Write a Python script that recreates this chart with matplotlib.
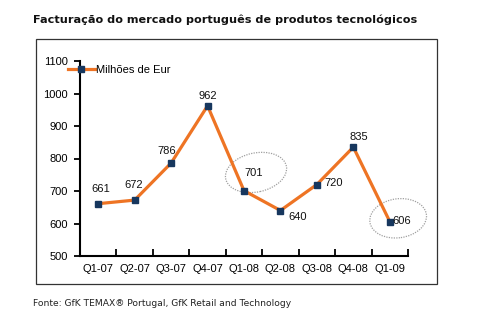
import matplotlib
matplotlib.use("Agg")
import matplotlib.pyplot as plt
from matplotlib.patches import Ellipse, Rectangle
from matplotlib.transforms import ScaledTranslation
import numpy as np

categories = ["Q1-07", "Q2-07", "Q3-07", "Q4-07", "Q1-08", "Q2-08", "Q3-08", "Q4-08", "Q1-09"]
values = [661, 672, 786, 962, 701, 640, 720, 835, 606]
label_offsets = [(3, 15), (-1, 15), (-4, 12), (0, 10), (10, 18), (17, -7), (17, 1), (5, 10), (12, 1)]
y_ticks = [500, 600, 700, 800, 900, 1000, 1100]
series_name = "Milhões de Eur"
title = "Facturação do mercado português de produtos tecnológicos"
source = "Fonte: GfK TEMAX® Portugal, GfK Retail and Technology"

W, H = 498, 322
fig = plt.figure(figsize=(W / 100, H / 100), dpi=100)
fig.patch.set_facecolor("white")

# outer frame
fig.patches.append(Rectangle((36 / W, 1 - 284 / H), (437 - 36) / W, (284 - 39) / H,
                             transform=fig.transFigure, fill=False, edgecolor="#333333",
                             linewidth=0.9))

ax = fig.add_axes([80 / W, 1 - 256 / H, (408 - 80) / W, (256 - 61) / H])
ax.patch.set_alpha(0)
x = np.arange(len(categories))
orange = "#EE7424"
navy = "#17375E"
line, = ax.plot(x, values, color=orange, linewidth=2.3, marker="s", markersize=4.5,
                markerfacecolor=navy, markeredgecolor=navy, label=series_name, zorder=3)

for xi, v, (dx, dy) in zip(x, values, label_offsets):
    ax.annotate(str(v), (xi, v), xytext=(dx, dy), textcoords="offset pixels",
                ha="center", va="center", fontsize=8, family="Liberation Sans",
                color="#111111")

ax.set_xlim(-0.5, len(categories) - 0.5)
ax.set_ylim(500, 1100)
ax.set_yticks(y_ticks)
ax.set_yticklabels([str(t) for t in y_ticks], fontsize=8, family="Liberation Sans")
ax.set_xticks(np.arange(-0.5, len(categories)), minor=False)
ax.set_xticklabels([])
ax.set_xticks(x, minor=True)
ax.set_xticklabels(categories, minor=True, fontsize=8, family="Liberation Sans")
ax.tick_params(axis="x", which="major", direction="in", length=5, width=1.3)
ax.tick_params(axis="x", which="minor", length=0, pad=6)
ax.tick_params(axis="y", direction="out", length=4, width=1.3, pad=5)
for s in ["top", "right"]:
    ax.spines[s].set_visible(False)
for s in ["left", "bottom"]:
    ax.spines[s].set_linewidth(1.5)

# highlight ellipses
def ellipse_at(xd, yd, w_px, h_px, ang):
    tr = fig.dpi_scale_trans + ScaledTranslation(xd, yd, ax.transData)
    e = Ellipse((0, 0), w_px / 100, h_px / 100, angle=ang, transform=tr, fill=False,
                edgecolor="#A0A0A0", linewidth=0.9, linestyle=(0, (1, 1)), zorder=2)
    ax.add_patch(e)
    e.set_clip_on(False)

ellipse_at(4.33, 757, 62, 39, 12)
ellipse_at(8.23, 616, 57, 39, 8)

leg = ax.legend(handles=[line], loc="upper left", bbox_to_anchor=(68 / W, 1 - 65 / H),
                bbox_transform=fig.transFigure, frameon=False, borderpad=0,
                borderaxespad=0, handlelength=2.4, handletextpad=0.15,
                prop={"family": "Liberation Sans", "size": 8})

fig.text(33 / W, 1 - 20 / H, title, fontsize=8.1, fontweight="bold",
         family="DejaVu Sans", ha="left", va="center", color="#111111")
fig.text(33 / W, 1 - 303 / H, source, fontsize=6.6, family="DejaVu Sans",
         ha="left", va="center", color="#222222")

fig.savefig("out.png", dpi=100)
